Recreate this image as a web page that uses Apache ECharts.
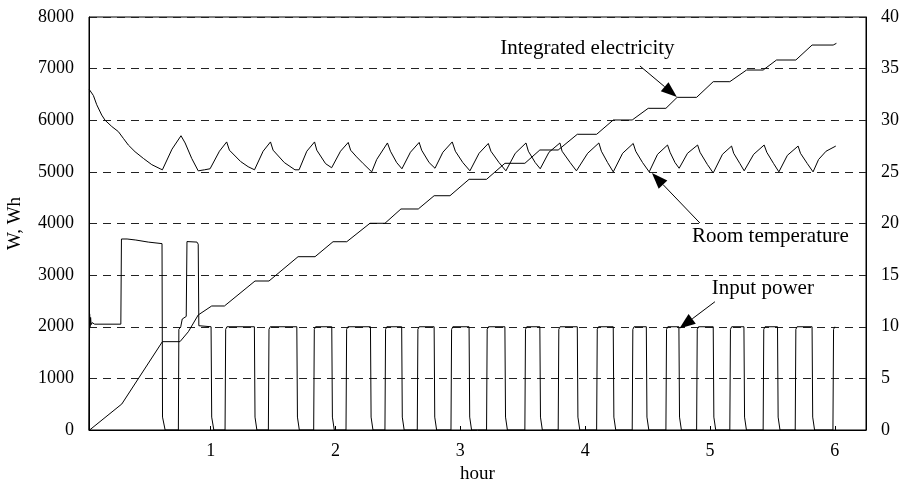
<!DOCTYPE html>
<html>
<head>
<meta charset="utf-8">
<script src="https://cdn.jsdelivr.net/npm/echarts@6/dist/echarts.min.js"></script>
<style>
  html, body { margin: 0; padding: 0; background: #fff; }
  #chart { width: 906px; height: 484px; }
</style>
</head>
<body>
<div id="chart"></div>
<script>
// input power, [hour, W]
const inputPower = [
  [0.025, 0], [0.03, 2250], [0.034, 2000], [0.038, 2180], [0.042, 2040], [0.05, 2080], [0.07, 2050], [0.28, 2050],
  [0.285, 3700], [0.33, 3700], [0.40, 3680], [0.50, 3640], [0.61, 3610], [0.614, 250], [0.635, 0],
  [0.741, 0], [0.745, 1950], [0.76, 2000], [0.768, 2030], [0.772, 2150], [0.804, 2200], [0.81, 3650], [0.89, 3640], [0.9, 3600], [0.905, 2020], [1.003, 2000], [1.008, 250], [1.025, 0],
  [1.115, 0], [1.12, 1950], [1.13, 2000], [1.35, 2000], [1.355, 250], [1.37, 0],
  [1.462, 0], [1.467, 1950], [1.477, 2000], [1.69, 2000], [1.695, 250], [1.71, 0],
  [1.825, 0], [1.83, 1950], [1.84, 2000], [1.97, 2000], [1.975, 250], [1.99, 0],
  [2.084, 0], [2.089, 1950], [2.099, 2000], [2.28, 2000], [2.285, 250], [2.30, 0],
  [2.396, 0], [2.401, 1950], [2.411, 2000], [2.53, 2000], [2.535, 250], [2.55, 0],
  [2.655, 0], [2.66, 1950], [2.67, 2000], [2.79, 2000], [2.795, 250], [2.81, 0],
  [2.925, 0], [2.93, 1950], [2.94, 2000], [3.07, 2000], [3.075, 250], [3.09, 0],
  [3.21, 0], [3.215, 1950], [3.225, 2000], [3.357, 2000], [3.362, 250], [3.377, 0],
  [3.517, 0], [3.522, 1950], [3.532, 2000], [3.637, 2000], [3.642, 250], [3.657, 0],
  [3.784, 0], [3.789, 1950], [3.799, 2000], [3.937, 2000], [3.942, 250], [3.957, 0],
  [4.092, 0], [4.097, 1950], [4.107, 2000], [4.225, 2000], [4.23, 250], [4.245, 0],
  [4.377, 0], [4.382, 1950], [4.392, 2000], [4.49, 2000], [4.495, 250], [4.51, 0],
  [4.647, 0], [4.652, 1950], [4.662, 2000], [4.751, 2000], [4.756, 250], [4.771, 0],
  [4.893, 0], [4.898, 1950], [4.908, 2000], [5.026, 2000], [5.031, 250], [5.046, 0],
  [5.159, 0], [5.164, 1950], [5.174, 2000], [5.272, 2000], [5.277, 250], [5.292, 0],
  [5.426, 0], [5.431, 1950], [5.441, 2000], [5.541, 2000], [5.546, 250], [5.561, 0],
  [5.683, 0], [5.688, 1950], [5.698, 2000], [5.818, 2000], [5.823, 250], [5.838, 0],
  [5.985, 0], [5.99, 1950], [6.0, 2000], [6.005, 2000]
];

// integrated electricity, [hour, Wh]
const integratedElectricity = [
  [0.03, 0], [0.288, 504], [0.613, 1711], [0.754, 1711], [0.821, 1904], [0.90, 2228], [1.008, 2402], [1.11, 2402],
  [1.355, 2886], [1.467, 2886], [1.70, 3357], [1.836, 3357], [1.98, 3647], [2.09, 3647],
  [2.276, 4004], [2.396, 4004], [2.524, 4281], [2.663, 4281], [2.79, 4538], [2.917, 4538],
  [3.07, 4856], [3.21, 4856], [3.357, 5166], [3.517, 5166], [3.637, 5424], [3.784, 5424],
  [3.937, 5728], [4.092, 5728], [4.225, 6005], [4.377, 6005], [4.505, 6231], [4.647, 6231],
  [4.737, 6444], [4.893, 6444], [5.026, 6747], [5.159, 6747], [5.293, 6973], [5.426, 6973],
  [5.533, 7167], [5.688, 7167], [5.818, 7457], [5.987, 7457], [6.013, 7490]
];

// room temperature, [hour, deg C] (right axis)
const roomTemperature = [
  [0.026, 33.0], [0.06, 32.4], [0.087, 31.5], [0.127, 30.5], [0.154, 30.0], [0.207, 29.4], [0.26, 28.9],
  [0.30, 28.25], [0.34, 27.6], [0.394, 26.95], [0.461, 26.3], [0.528, 25.7], [0.595, 25.3], [0.613, 25.2],
  [0.69, 27.2], [0.762, 28.5], [0.795, 27.8], [0.848, 26.3], [0.90, 25.1], [0.95, 25.2], [0.995, 25.3],
  [1.07, 27.0], [1.128, 27.9], [1.15, 27.1], [1.24, 26.0], [1.30, 25.5], [1.351, 25.2],
  [1.42, 27.0], [1.479, 27.9], [1.50, 27.1], [1.59, 25.9], [1.675, 25.2], [1.708, 25.2],
  [1.77, 27.0], [1.832, 27.9], [1.85, 27.1], [1.92, 25.8], [1.969, 25.4],
  [2.04, 27.0], [2.102, 27.85], [2.121, 27.1], [2.169, 26.45], [2.222, 25.8], [2.29, 25.0],
  [2.33, 26.2], [2.416, 27.8], [2.44, 27.0], [2.49, 25.9], [2.532, 25.3],
  [2.60, 26.9], [2.670, 27.85], [2.69, 27.1], [2.75, 25.9], [2.797, 25.35],
  [2.86, 26.9], [2.935, 27.9], [2.96, 27.0], [3.02, 25.9], [3.077, 25.1],
  [3.15, 26.8], [3.224, 27.75], [3.245, 27.0], [3.31, 25.9], [3.365, 25.1],
  [3.44, 26.8], [3.526, 27.8], [3.545, 27.0], [3.60, 25.9], [3.640, 25.3],
  [3.71, 26.9], [3.798, 27.8], [3.815, 27.0], [3.88, 25.9], [3.930, 25.1],
  [4.02, 26.8], [4.110, 27.8], [4.13, 27.0], [4.18, 25.9], [4.225, 25.0],
  [4.30, 26.8], [4.385, 27.75], [4.405, 27.0], [4.46, 25.9], [4.513, 25.0],
  [4.58, 26.7], [4.660, 27.6], [4.68, 26.9], [4.72, 25.9], [4.753, 25.35],
  [4.82, 26.8], [4.901, 27.6], [4.92, 26.9], [4.98, 25.7], [5.026, 24.9],
  [5.10, 26.7], [5.173, 27.5], [5.19, 26.8], [5.24, 25.8], [5.274, 25.1],
  [5.35, 26.7], [5.434, 27.6], [5.455, 26.9], [5.51, 25.8], [5.552, 25.0],
  [5.62, 26.6], [5.706, 27.5], [5.725, 26.8], [5.78, 25.8], [5.826, 25.0],
  [5.87, 26.2], [5.93, 27.0], [6.008, 27.5]
];

// callouts, positions in [hour, W] on the left axis
const noteTexts = ['Integrated electricity', 'Room temperature', 'Input power'];
const noteLabelAt = [[4.018, 7399], [5.484, 3758], [5.424, 2741]];
const noteArrowFrom = [[4.439, 7051], [4.919, 4010], [5.04, 2485]];
const noteArrowTo = [[4.735, 6450], [4.535, 4978], [4.755, 1966]];

const FONT = 'Liberation Serif';

const chart = echarts.init(document.getElementById('chart'));

function lineSeries(name, data, yAxisIndex) {
  return {
    name: name,
    type: 'line',
    data: data,
    yAxisIndex: yAxisIndex,
    showSymbol: false,
    symbol: 'none',
    lineStyle: { color: '#000', width: 1 },
    emphasis: { disabled: true }
  };
}

chart.setOption({
  animation: false,
  backgroundColor: '#fff',
  grid: {
    left: 89, right: 40, top: 17, bottom: 54,
    containLabel: false,
    outerBoundsMode: 'none',
    show: true, borderColor: '#000', borderWidth: 1
  },
  xAxis: {
    type: 'value',
    min: 0.025,
    max: 6.25,
    name: 'hour',
    nameLocation: 'middle',
    nameGap: 34,
    nameTextStyle: { fontFamily: FONT, fontSize: 19, color: '#000' },
    axisLine: { lineStyle: { color: '#000' } },
    axisTick: { inside: true, length: 4, lineStyle: { color: '#000' } },
    axisLabel: {
      fontFamily: FONT, fontSize: 18, color: '#000', margin: 12,
      formatter: function (v) { return (Math.abs(v - Math.round(v)) < 1e-6 && v > 0.5) ? String(Math.round(v)) : ''; }
    },
    splitLine: { show: false }
  },
  yAxis: [
    {
      type: 'value',
      min: 0, max: 8000, interval: 1000,
      name: 'W, Wh',
      nameLocation: 'middle',
      nameGap: 64,
      nameTextStyle: { fontFamily: FONT, fontSize: 19, color: '#000' },
      axisLine: { show: true, lineStyle: { color: '#000' } },
      axisTick: { show: false },
      axisLabel: { fontFamily: FONT, fontSize: 18, color: '#000', margin: 15, formatter: function (v) { return String(v); } },
      splitLine: { show: true, lineStyle: { color: '#222', width: 1, type: [8, 6] } }
    },
    {
      type: 'value',
      position: 'right',
      min: 0, max: 40, interval: 5,
      axisLine: { show: true, lineStyle: { color: '#000' } },
      axisTick: { show: false },
      axisLabel: { fontFamily: FONT, fontSize: 18, color: '#000', margin: 15 },
      splitLine: { show: false }
    }
  ],
  series: [
    lineSeries('Input power', inputPower, 0),
    lineSeries('Integrated electricity', integratedElectricity, 0),
    lineSeries('Room temperature', roomTemperature, 1)
  ]
});

// callout texts and arrows
const graphics = [];
noteTexts.forEach(function (text, i) {
  const c = chart.convertToPixel({ seriesIndex: 1 }, noteLabelAt[i]);
  graphics.push({
    type: 'text',
    x: c[0], y: c[1],
    style: {
      text: text, fontFamily: FONT, fontSize: 21, fill: '#000',
      align: 'center', verticalAlign: 'middle'
    },
    z: 100
  });
  const p = chart.convertToPixel({ seriesIndex: 1 }, noteArrowFrom[i]);
  const q = chart.convertToPixel({ seriesIndex: 1 }, noteArrowTo[i]);
  const dx = q[0] - p[0], dy = q[1] - p[1];
  const len = Math.sqrt(dx * dx + dy * dy);
  const ux = dx / len, uy = dy / len;
  const headLen = 16, headHalf = 6;
  const bx = q[0] - ux * headLen, by = q[1] - uy * headLen;
  graphics.push({
    type: 'line',
    shape: { x1: p[0], y1: p[1], x2: bx, y2: by },
    style: { stroke: '#000', lineWidth: 1 },
    z: 100
  });
  graphics.push({
    type: 'polygon',
    shape: { points: [[q[0], q[1]], [bx - uy * headHalf, by + ux * headHalf], [bx + uy * headHalf, by - ux * headHalf]] },
    style: { fill: '#000' },
    z: 100
  });
});
chart.setOption({ graphic: graphics });
</script>
</body>
</html>
